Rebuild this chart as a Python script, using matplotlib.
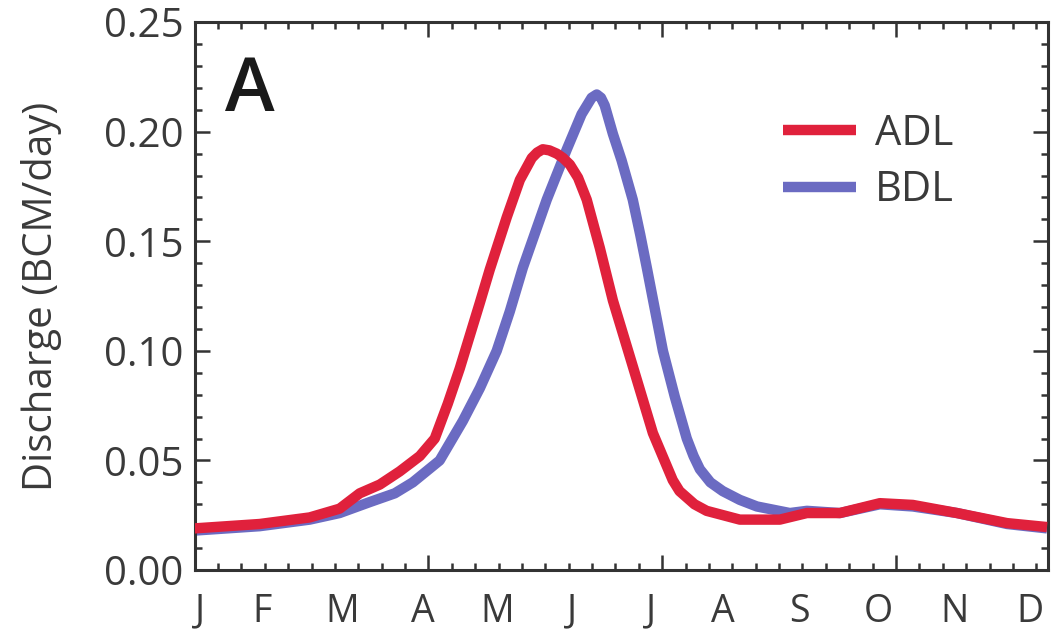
import numpy as np
import matplotlib
matplotlib.use("Agg")
import matplotlib.pyplot as plt
from matplotlib.ticker import MultipleLocator

# day of year and discharge (BCM/day)
adl_day = [0, 27.8, 49.2, 62.0, 70.6, 79.2, 87.7, 96.3, 102.7, 108.3, 113.4, 117.7,
           122.0, 126.2, 133.5, 139.1, 144.2, 146.5, 148.9, 151.7, 154.9, 157.6,
           160.5, 164.0, 167.7, 173.3, 178.9, 187.4, 196.0, 204.5, 207.4, 213.8,
           219.0, 233.2, 250.3, 261.9, 276.0, 293.1, 307.2, 326.1, 347.5, 364.6]
adl_q = [0.019, 0.021, 0.024, 0.028, 0.035, 0.039, 0.045, 0.052, 0.060, 0.076, 0.092, 0.107,
         0.122, 0.137, 0.161, 0.178, 0.188, 0.1905, 0.192, 0.1915, 0.190, 0.188,
         0.185, 0.179, 0.169, 0.147, 0.123, 0.093, 0.0625, 0.041, 0.036, 0.030,
         0.027, 0.023, 0.023, 0.026, 0.026, 0.0305, 0.0297, 0.026, 0.0214, 0.0196]

bdl_day = [0, 27.8, 49.2, 62.0, 74.9, 85.6, 93.3, 104.8, 114.7, 122.0, 129.2, 134.8,
           140.4, 150.6, 159.2, 165.5, 169.8, 172.0, 173.8, 175.4, 178.9, 182.6,
           187.4, 190.6, 193.4, 200.3, 205.4, 210.5, 213.4, 216.1, 220.6, 225.9,
           233.2, 240.5, 254.6, 261.9, 276.0, 293.1, 307.2, 326.1, 347.5, 364.6]
bdl_q = [0.018, 0.020, 0.023, 0.026, 0.031, 0.035, 0.040, 0.050, 0.068, 0.083, 0.100, 0.118,
         0.138, 0.169, 0.192, 0.208, 0.2155, 0.217, 0.2155, 0.212, 0.199, 0.187,
         0.169, 0.153, 0.138, 0.100, 0.079, 0.060, 0.052, 0.046, 0.040, 0.036,
         0.032, 0.029, 0.026, 0.027, 0.026, 0.030, 0.029, 0.026, 0.021, 0.019]

month_labels = ['J', 'F', 'M', 'A', 'M', 'J', 'J', 'A', 'S', 'O', 'N', 'D']
month_pos = [2.1, 28.7, 63.3, 97.6, 129.2, 161.3, 195.1, 225.9, 258.9, 292.3, 325.2, 357.3]

plt.rcParams['font.family'] = ['Open Sans', 'DejaVu Sans']
txt = '#3a3a3a'

fig = plt.figure(figsize=(10.58, 6.33), dpi=100)
ax = fig.add_axes([0.184, 0.0995, 0.8065, 0.8655])

ax.plot(bdl_day, bdl_q, color='#6b6bc2', lw=7.5, solid_capstyle='butt',
        solid_joinstyle='round', label='BDL', zorder=2)
ax.plot(adl_day, adl_q, color='#e0213c', lw=7.5, solid_capstyle='butt',
        solid_joinstyle='round', label='ADL', zorder=3)

ax.set_xlim(0, 365)
ax.set_ylim(0, 0.25)

ax.yaxis.set_major_locator(MultipleLocator(0.05))
ax.yaxis.set_minor_locator(MultipleLocator(0.01))
ax.xaxis.set_major_locator(MultipleLocator(100))
ax.xaxis.set_minor_locator(MultipleLocator(10))
ax.yaxis.set_major_formatter(plt.FuncFormatter(lambda v, p: f'{v:.2f}'))
ax.tick_params(axis='both', which='both', direction='in', top=True, right=True,
               color='#333333', width=1.8)
ax.tick_params(which='major', length=11)
ax.tick_params(which='minor', length=5)
ax.tick_params(axis='y', labelsize=29, labelcolor=txt, pad=8)
ax.tick_params(axis='x', labelbottom=False)
for s in ax.spines.values():
    s.set_linewidth(2.2)
    s.set_color('#333333')

for lab, d in zip(month_labels, month_pos):
    ax.text(d, -0.0235, lab, ha='center', va='baseline', fontsize=27, color=txt,
            clip_on=False)

ax.set_ylabel('Discharge (BCM/day)', fontsize=29, color=txt, labelpad=30)
ax.text(0.036, 0.94, 'A', transform=ax.transAxes, fontsize=54, color='#1a1a1a',
        fontweight='semibold', va='top', ha='left')

h, l = ax.get_legend_handles_labels()
ax.legend(h[::-1], l[::-1], loc='upper left', bbox_to_anchor=(0.67, 0.865), frameon=False,
          fontsize=30, handlelength=1.75, handletextpad=0.45, labelspacing=0.35,
          labelcolor=txt, borderaxespad=0)

fig.savefig('out.png', dpi=100)
